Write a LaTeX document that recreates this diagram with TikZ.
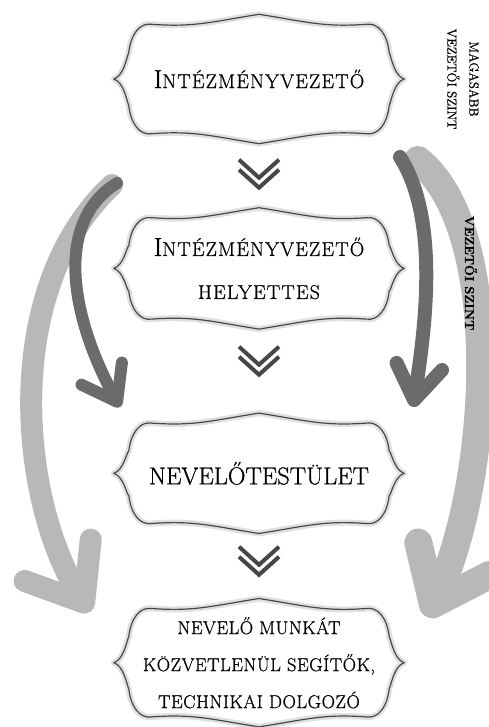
\documentclass[tikz,border=0pt]{standalone}
\usepackage{fontspec}
\setmainfont{Latin Modern Roman}[FakeBold=0.8]
\usetikzlibrary{positioning,calc,arrows.meta}

% scalloped frame round a named box
\newcommand{\frameit}[2]{%
\draw[#2] ($(#1.north west)+(38,10)$)
 .. controls ($(#1.north west)+(80,13)$) and ($(#1.north)+(-50,8)$) .. (#1.north)
 .. controls ($(#1.north)+(50,8)$) and ($(#1.north east)+(-80,13)$) .. ($(#1.north east)+(-38,10)$)
 .. controls ($(#1.north east)+(-26,8)$) and ($(#1.north east)+(-17,20)$) .. ($(#1.north east)+(-15,38)$)
 .. controls ($(#1.east)+(-13,-22)$) and ($(#1.east)+(-10,-3)$) .. (#1.east)
 .. controls ($(#1.east)+(-10,3)$) and ($(#1.east)+(-13,22)$) .. ($(#1.south east)+(-15,-38)$)
 .. controls ($(#1.south east)+(-17,-20)$) and ($(#1.south east)+(-26,-8)$) .. ($(#1.south east)+(-38,-10)$)
 .. controls ($(#1.south east)+(-80,-13)$) and ($(#1.south)+(50,-8)$) .. (#1.south)
 .. controls ($(#1.south)+(-50,-8)$) and ($(#1.south west)+(80,-13)$) .. ($(#1.south west)+(38,-10)$)
 .. controls ($(#1.south west)+(26,-8)$) and ($(#1.south west)+(17,-20)$) .. ($(#1.south west)+(15,-38)$)
 .. controls ($(#1.west)+(13,22)$) and ($(#1.west)+(10,3)$) .. (#1.west)
 .. controls ($(#1.west)+(10,-3)$) and ($(#1.west)+(13,-22)$) .. ($(#1.north west)+(15,38)$)
 .. controls ($(#1.north west)+(17,20)$) and ($(#1.north west)+(26,8)$) .. cycle;}
% big first letter, small capitals after it
\newcommand{\capword}[2]{{\fontsize{26}{43}\selectfont #1}#2}

\begin{document}
\begin{tikzpicture}[x=1pt,y=-1pt,every text node part/.style={align=center}]
\tikzset{myFont/.style={font=\fontsize{20}{43}\selectfont\addfontfeature{LetterSpace=6}}}
\tikzset{myBox/.style={minimum width=290pt,inner sep=0pt}}
\tikzset{myHalo/.style={draw=black!12,line width=6pt,line join=round}}
\tikzset{myFrame/.style={draw=black!72,line width=1.2pt,line join=round}}
\tikzset{chevLine/.style={draw=black!72,line width=4pt,line join=miter}}
\tikzset{dblchev/.pic={
  \draw[chevLine] (-20,-16) -- (0,2) -- (20,-16);
  \draw[chevLine] (-20,-6) -- (0,12) -- (20,-6);}}
\tikzset{darkArrow/.style={draw=black!58,line cap=round,line width=#1}}
\tikzset{lightArrow/.style={draw=black!28,line cap=round,line width=#1}}

\useasboundingbox (0,0) rectangle (488,727);

\node[myBox,myFont,minimum height=129pt] (head) at (259,79) {\capword{I}{NTÉZMÉNYVEZETŐ}};
\node[myBox,myFont,minimum height=121pt,below=64pt of head] (deputy) {\capword{I}{NTÉZMÉNYVEZETŐ}\\HELYETTES};
\node[myBox,font=\fontsize{24.5}{26}\selectfont,minimum height=120pt,below=84pt of deputy] (board) {NEVELŐTESTÜLET};
\node[myBox,font=\fontsize{18.5}{37}\selectfont\addfontfeature{LetterSpace=3},minimum height=128pt,below=65pt of board] (helpers) {NEVELŐ MUNKÁT\\KÖZVETLENÜL SEGÍTŐK,\\TECHNIKAI DOLGOZÓ};

% curved arrows
\coordinate (llS) at (112,185);
\coordinate (llE) at (90,612);
\coordinate (ldS) at (117,183);
\coordinate (ldE) at (120,407);
\coordinate (rlS) at (418,160);
\coordinate (rlE) at (427,617);
\coordinate (rdS) at (400,157);
\coordinate (rdE) at (413,407);
\draw[lightArrow=22pt,-{Straight Barb[round,length=50pt,width=78pt]}] (llS) .. controls (0,290) and (20,500) .. (llE);
\draw[lightArrow=28pt,-{Straight Barb[round,length=50pt,width=78pt]}] (rlS) .. controls (505,230) and (490,480) .. (rlE);
\draw[darkArrow=12pt,-{Straight Barb[round,length=32pt,width=46pt]}] (ldS) .. controls (50,225) and (75,325) .. (ldE);
\draw[darkArrow=14pt,-{Straight Barb[round,length=34pt,width=46pt]}] (rdS) .. controls (440,220) and (425,330) .. (rdE);

\foreach \b in {head,deputy,board,helpers}{
  \frameit{\b}{myHalo}
  \frameit{\b}{myFrame}
}

\pic at ($(head.south)!0.5!(deputy.north)$) {dblchev};
\pic at ($(deputy.south)!0.4!(board.north)$) {dblchev};
\pic at ($(board.south)!0.45!(helpers.north)$) {dblchev};

\node[font=\fontsize{13}{22}\selectfont,rotate=-90] (level) at (463,79) {MAGASABB\\VEZETŐI SZINT};
\node[font=\fontsize{13}{13}\selectfont\bfseries,rotate=-90] (mid) at (471,273) {VEZETŐI SZINT};
\end{tikzpicture}
\end{document}
